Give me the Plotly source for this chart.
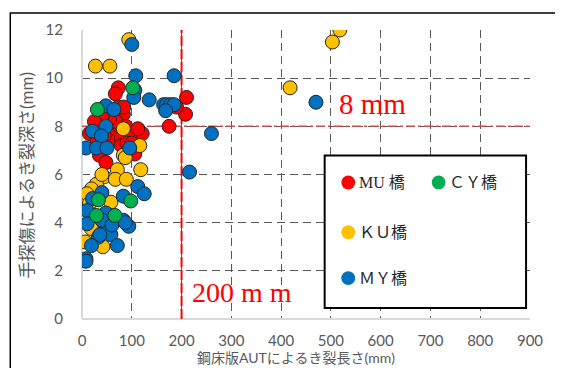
import plotly.graph_objects as go

# ---- data ----
mu_x = [73, 67, 83, 73, 60, 69, 121, 15, 64, 79, 98, 35, 48, 106, 79, 210, 208, 175, 190, 55, 40, 88, 30, 90, 50, 100, 25, 84, 112, 45]
mu_y = [9.6, 9.35, 8.5, 8.8, 7.9, 8.2, 7.7, 7.7, 7.5, 7.5, 7.7, 6.8, 6.5, 6.85, 7.2, 9.2, 8.5, 8.0, 8.8, 8.3, 8.4, 8.0, 7.4, 7.3, 7.8, 7.3, 8.2, 8.8, 7.9, 7.6]

cy_x = [31, 102, 33, 98, 29, 66]
cy_y = [8.7, 9.6, 4.95, 4.9, 4.3, 4.3]

ku_x = [94, 27, 56, 503, 518, 418, 83, 116, 83, 87, 71, 44, 67, 89, 118, 29, 19, 58, 12, 19, 19, 6, 42, 10, 40, 15]
ku_y = [11.6, 10.5, 10.5, 11.5, 12.0, 9.6, 7.9, 7.2, 6.8, 6.7, 6.2, 5.9, 5.8, 5.8, 6.2, 5.6, 5.4, 4.85, 4.6, 4.1, 3.75, 3.2, 3.0, 5.2, 6.0, 4.8]

my_x = [100, 108, 185, 106, 104, 135, 164, 170, 178, 185, 168, 470, 260, 216, 48, 64, 48, 21, 39, 96, 8, 29, 50,
        112, 125, 83, 21, 40, 10, 48, 83, 94, 10, 48, 58, 33, 19, 71, 8, 8, 40, 60, 36, 87]
my_y = [11.4, 10.1, 10.1, 9.5, 9.2, 9.1, 8.9, 8.9, 8.9, 8.9, 8.65, 9.0, 7.7, 6.1, 8.85, 8.7, 8.0, 7.8, 7.6, 7.1, 7.1, 7.1, 7.1,
        5.5, 5.2, 5.1, 5.0, 5.25, 4.5, 4.4, 4.1, 3.85, 3.95, 3.75, 3.5, 3.4, 3.05, 3.05, 2.5, 2.4, 4.1, 3.9, 3.5, 4.0]

series_names = ["MU 橋", "ＣＹ橋", "ＫＵ橋", "ＭＹ橋"]
colors = {"MU": "#FF0000", "CY": "#00B050", "KU": "#FFC000", "MY": "#0070C0"}

x_ticks = [0, 100, 200, 300, 400, 500, 600, 700, 800, 900]
y_ticks = [0, 2, 4, 6, 8, 10, 12]
x_limit = 200
y_limit = 8

x_title = "鋼床版AUTによるき裂長さ(mm)"
y_title = "手探傷によるき裂深さ(mm)"
label_8 = "8 mm"
label_200 = "200 m m"

serif = "Liberation Serif, DejaVu Serif, Noto Sans CJK JP"
sans = "Lato, Noto Sans CJK JP, sans-serif"

# plot area in window pixels (page body has an 8px default margin)
PL, PR, PT, PB = 82, 538, 29, 319
PW, PH = PR - PL, PB - PT

fig = go.Figure()


def add(xs, ys, color, name):
    fig.add_trace(go.Scatter(
        x=xs, y=ys, mode="markers", name=name, showlegend=False,
        marker=dict(size=14, color=color, line=dict(color="#262626", width=1)),
    ))


add(mu_x, mu_y, colors["MU"], series_names[0])
add(ku_x, ku_y, colors["KU"], series_names[2])
add(my_x, my_y, colors["MY"], series_names[3])
add(cy_x, cy_y, colors["CY"], series_names[1])

# threshold lines
fig.add_shape(type="line", x0=x_limit, x1=x_limit, y0=0, y1=12, xref="x", yref="y",
              line=dict(color="#FF0000", width=2, dash="10px,3px"), layer="between")
fig.add_shape(type="line", x0=0, x1=900, y0=y_limit, y1=y_limit, xref="x", yref="y",
              line=dict(color="#C0504D", width=1.5, dash="dashdot"), layer="between")


def px2paper(px, py):
    return (px - PL) / float(PW), (PB - py) / float(PH)


# outer frame
fx0, fy1 = px2paper(9, 12)
fx1, fy0 = px2paper(600, 420)
fig.add_shape(type="rect", xref="paper", yref="paper", x0=fx0, x1=fx1, y0=fy0, y1=fy1,
              line=dict(color="#000000", width=1.5), fillcolor="rgba(0,0,0,0)", layer="above")

# legend box
bx0, by1 = px2paper(329, 155)
bx1, by0 = px2paper(534, 308)
fig.add_shape(type="rect", xref="paper", yref="paper", x0=bx0, x1=bx1, y0=by0, y1=by1,
              line=dict(color="#000000", width=2), fillcolor="#FFFFFF", layer="above")

legend_items = [
    (353, 182, colors["MU"], series_names[0]),
    (445, 182, colors["CY"], series_names[1]),
    (353, 232, colors["KU"], series_names[2]),
    (353, 278, colors["MY"], series_names[3]),
]
for cx, cy, col, txt in legend_items:
    r = 7
    x0, y0 = px2paper(cx - r, cy + r)
    x1, y1 = px2paper(cx + r, cy - r)
    fig.add_shape(type="circle", xref="paper", yref="paper", x0=x0, x1=x1, y0=y0, y1=y1,
                  line=dict(color=col, width=0), fillcolor=col, layer="above")
    tx, ty = px2paper(cx + 9, cy)
    fig.add_annotation(text=txt, xref="paper", yref="paper", x=tx, y=ty, xanchor="left",
                       yanchor="middle", showarrow=False,
                       font=dict(family=serif, size=16, color="#262626"))

# red labels
lx, ly = px2paper(342, 103)
fig.add_annotation(text=label_8, xref="paper", yref="paper", x=lx, y=ly, xanchor="left",
                   yanchor="middle", showarrow=False, font=dict(family=serif, size=29, color="#FF0000"))
lx, ly = px2paper(192, 292)
fig.add_annotation(text=label_200, xref="paper", yref="paper", x=lx, y=ly, xanchor="left",
                   yanchor="middle", showarrow=False, font=dict(family=serif, size=28, color="#FF0000"))

# axis titles
tx, ty = px2paper(300, 358)
fig.add_annotation(text=x_title, xref="paper", yref="paper", x=tx, y=ty, xanchor="center",
                   yanchor="middle", showarrow=False, font=dict(family=sans, size=14, color="#595959"))
tx, ty = px2paper(25, 175)
fig.add_annotation(text=y_title, xref="paper", yref="paper", x=tx, y=ty, xanchor="center",
                   yanchor="middle", showarrow=False, textangle=-90,
                   font=dict(family=sans, size=17, color="#595959"))

grid_common = dict(showgrid=True, gridcolor="#595959", gridwidth=1.3, griddash="8px,5px",
                   zeroline=True, zerolinecolor="#D9D9D9", zerolinewidth=1.5,
                   showline=False, ticks="",
                   tickfont=dict(family=sans, size=15, color="#595959"))

fig.update_xaxes(range=[0, 900], tickvals=x_ticks, ticklabelstandoff=11, **grid_common)
fig.update_yaxes(range=[0, 12], tickvals=y_ticks, ticklabelstandoff=18, **grid_common)

W, H = 547, 360
fig.update_layout(
    width=W, height=H,
    margin=dict(l=PL - 8, r=W - (PR - 8), t=PT - 8, b=H - (PB - 8)),
    plot_bgcolor="#FFFFFF", paper_bgcolor="#FFFFFF",
    showlegend=False,
)

fig.write_html("out.html")
